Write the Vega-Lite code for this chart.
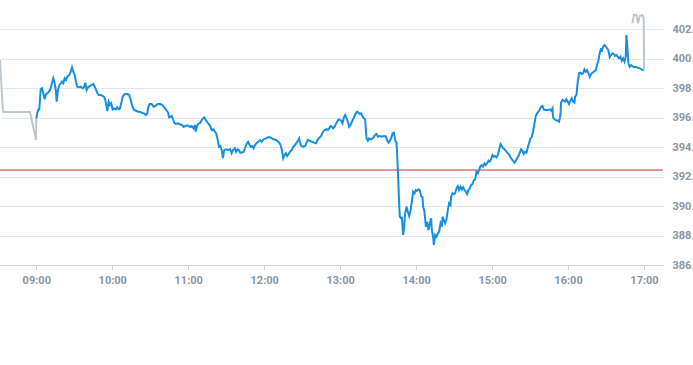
{
  "width": 663,
  "height": 265,
  "autosize": {"type": "none"},
  "padding": {"left": 0, "top": 0, "right": 30, "bottom": 100},
  "config": {"view": {"stroke": "transparent"}},
  "layer": [
    {
      "data": {"values": [{"prevClose": 392.45}]},
      "mark": {"type": "rule", "color": "#c9302c", "strokeWidth": 1},
      "encoding": {"y": {"field": "prevClose", "type": "quantitative"}}
    },
    {
      "data": {"values": [
        {"time":"2024-03-01T08:31:20Z","price":399.92,"series":"pre"},
        {"time":"2024-03-01T08:33:43Z","price":396.39,"series":"pre"},
        {"time":"2024-03-01T08:55:02Z","price":396.39,"series":"pre"},
        {"time":"2024-03-01T08:59:46Z","price":394.49,"series":"pre"},
        {"time":"2024-03-01T09:00:00Z","price":395.96,"series":"pre"},
        {"time":"2024-03-01T09:00:00Z","price":395.96,"series":"regular"},
        {"time":"2024-03-01T09:01:21Z","price":396.53,"series":"regular"},
        {"time":"2024-03-01T09:02:22Z","price":396.57,"series":"regular"},
        {"time":"2024-03-01T09:03:28Z","price":397.93,"series":"regular"},
        {"time":"2024-03-01T09:04:30Z","price":398.00,"series":"regular"},
        {"time":"2024-03-01T09:05:32Z","price":397.66,"series":"regular"},
        {"time":"2024-03-01T09:06:38Z","price":397.25,"series":"regular"},
        {"time":"2024-03-01T09:07:39Z","price":397.61,"series":"regular"},
        {"time":"2024-03-01T09:09:14Z","price":397.70,"series":"regular"},
        {"time":"2024-03-01T09:10:49Z","price":397.89,"series":"regular"},
        {"time":"2024-03-01T09:12:24Z","price":398.34,"series":"regular"},
        {"time":"2024-03-01T09:13:25Z","price":398.68,"series":"regular"},
        {"time":"2024-03-01T09:14:32Z","price":398.34,"series":"regular"},
        {"time":"2024-03-01T09:15:33Z","price":397.77,"series":"regular"},
        {"time":"2024-03-01T09:16:06Z","price":397.09,"series":"regular"},
        {"time":"2024-03-01T09:17:08Z","price":397.89,"series":"regular"},
        {"time":"2024-03-01T09:18:09Z","price":398.23,"series":"regular"},
        {"time":"2024-03-01T09:19:16Z","price":398.34,"series":"regular"},
        {"time":"2024-03-01T09:20:17Z","price":398.45,"series":"regular"},
        {"time":"2024-03-01T09:21:19Z","price":398.34,"series":"regular"},
        {"time":"2024-03-01T09:22:25Z","price":398.68,"series":"regular"},
        {"time":"2024-03-01T09:23:27Z","price":398.57,"series":"regular"},
        {"time":"2024-03-01T09:24:28Z","price":398.79,"series":"regular"},
        {"time":"2024-03-01T09:26:03Z","price":398.91,"series":"regular"},
        {"time":"2024-03-01T09:27:09Z","price":399.13,"series":"regular"},
        {"time":"2024-03-01T09:28:11Z","price":399.43,"series":"regular"},
        {"time":"2024-03-01T09:29:13Z","price":399.13,"series":"regular"},
        {"time":"2024-03-01T09:30:19Z","price":398.91,"series":"regular"},
        {"time":"2024-03-01T09:31:21Z","price":398.45,"series":"regular"},
        {"time":"2024-03-01T09:32:22Z","price":398.11,"series":"regular"},
        {"time":"2024-03-01T09:33:57Z","price":398.07,"series":"regular"},
        {"time":"2024-03-01T09:35:03Z","price":398.11,"series":"regular"},
        {"time":"2024-03-01T09:36:38Z","price":398.00,"series":"regular"},
        {"time":"2024-03-01T09:37:40Z","price":398.07,"series":"regular"},
        {"time":"2024-03-01T09:38:41Z","price":398.38,"series":"regular"},
        {"time":"2024-03-01T09:39:47Z","price":397.89,"series":"regular"},
        {"time":"2024-03-01T09:40:49Z","price":398.07,"series":"regular"},
        {"time":"2024-03-01T09:42:24Z","price":398.16,"series":"regular"},
        {"time":"2024-03-01T09:43:58Z","price":398.23,"series":"regular"},
        {"time":"2024-03-01T09:45:00Z","price":398.29,"series":"regular"},
        {"time":"2024-03-01T09:46:06Z","price":398.11,"series":"regular"},
        {"time":"2024-03-01T09:47:08Z","price":397.93,"series":"regular"},
        {"time":"2024-03-01T09:48:10Z","price":397.70,"series":"regular"},
        {"time":"2024-03-01T09:49:16Z","price":397.55,"series":"regular"},
        {"time":"2024-03-01T09:50:51Z","price":397.55,"series":"regular"},
        {"time":"2024-03-01T09:52:25Z","price":397.48,"series":"regular"},
        {"time":"2024-03-01T09:53:27Z","price":397.43,"series":"regular"},
        {"time":"2024-03-01T09:54:28Z","price":397.21,"series":"regular"},
        {"time":"2024-03-01T09:55:02Z","price":396.98,"series":"regular"},
        {"time":"2024-03-01T09:56:03Z","price":396.46,"series":"regular"},
        {"time":"2024-03-01T09:57:10Z","price":397.09,"series":"regular"},
        {"time":"2024-03-01T09:58:11Z","price":396.87,"series":"regular"},
        {"time":"2024-03-01T09:59:13Z","price":396.98,"series":"regular"},
        {"time":"2024-03-01T10:00:19Z","price":396.57,"series":"regular"},
        {"time":"2024-03-01T10:01:21Z","price":396.64,"series":"regular"},
        {"time":"2024-03-01T10:02:55Z","price":396.57,"series":"regular"},
        {"time":"2024-03-01T10:03:57Z","price":396.71,"series":"regular"},
        {"time":"2024-03-01T10:05:03Z","price":396.57,"series":"regular"},
        {"time":"2024-03-01T10:06:05Z","price":396.64,"series":"regular"},
        {"time":"2024-03-01T10:07:06Z","price":396.98,"series":"regular"},
        {"time":"2024-03-01T10:08:13Z","price":397.43,"series":"regular"},
        {"time":"2024-03-01T10:09:47Z","price":397.61,"series":"regular"},
        {"time":"2024-03-01T10:11:51Z","price":397.61,"series":"regular"},
        {"time":"2024-03-01T10:13:25Z","price":397.55,"series":"regular"},
        {"time":"2024-03-01T10:14:32Z","price":397.21,"series":"regular"},
        {"time":"2024-03-01T10:15:33Z","price":396.87,"series":"regular"},
        {"time":"2024-03-01T10:17:08Z","price":396.53,"series":"regular"},
        {"time":"2024-03-01T10:18:43Z","price":396.48,"series":"regular"},
        {"time":"2024-03-01T10:20:17Z","price":396.41,"series":"regular"},
        {"time":"2024-03-01T10:21:52Z","price":396.41,"series":"regular"},
        {"time":"2024-03-01T10:23:27Z","price":396.34,"series":"regular"},
        {"time":"2024-03-01T10:25:02Z","price":396.30,"series":"regular"},
        {"time":"2024-03-01T10:26:36Z","price":396.19,"series":"regular"},
        {"time":"2024-03-01T10:27:38Z","price":396.30,"series":"regular"},
        {"time":"2024-03-01T10:28:35Z","price":396.73,"series":"regular"},
        {"time":"2024-03-01T10:29:32Z","price":396.93,"series":"regular"},
        {"time":"2024-03-01T10:31:06Z","price":396.93,"series":"regular"},
        {"time":"2024-03-01T10:32:41Z","price":396.75,"series":"regular"},
        {"time":"2024-03-01T10:34:16Z","price":396.80,"series":"regular"},
        {"time":"2024-03-01T10:35:51Z","price":396.93,"series":"regular"},
        {"time":"2024-03-01T10:37:54Z","price":396.93,"series":"regular"},
        {"time":"2024-03-01T10:39:28Z","price":396.87,"series":"regular"},
        {"time":"2024-03-01T10:41:03Z","price":396.71,"series":"regular"},
        {"time":"2024-03-01T10:42:38Z","price":396.53,"series":"regular"},
        {"time":"2024-03-01T10:44:13Z","price":396.34,"series":"regular"},
        {"time":"2024-03-01T10:44:46Z","price":396.03,"series":"regular"},
        {"time":"2024-03-01T10:45:48Z","price":396.07,"series":"regular"},
        {"time":"2024-03-01T10:46:54Z","price":396.12,"series":"regular"},
        {"time":"2024-03-01T10:47:56Z","price":395.90,"series":"regular"},
        {"time":"2024-03-01T10:48:57Z","price":395.66,"series":"regular"},
        {"time":"2024-03-01T10:50:03Z","price":395.58,"series":"regular"},
        {"time":"2024-03-01T10:51:38Z","price":395.62,"series":"regular"},
        {"time":"2024-03-01T10:53:13Z","price":395.56,"series":"regular"},
        {"time":"2024-03-01T10:54:48Z","price":395.51,"series":"regular"},
        {"time":"2024-03-01T10:56:22Z","price":395.39,"series":"regular"},
        {"time":"2024-03-01T10:57:57Z","price":395.44,"series":"regular"},
        {"time":"2024-03-01T10:59:32Z","price":395.49,"series":"regular"},
        {"time":"2024-03-01T11:01:07Z","price":395.39,"series":"regular"},
        {"time":"2024-03-01T11:02:41Z","price":395.44,"series":"regular"},
        {"time":"2024-03-01T11:04:16Z","price":395.28,"series":"regular"},
        {"time":"2024-03-01T11:05:18Z","price":395.51,"series":"regular"},
        {"time":"2024-03-01T11:05:51Z","price":395.05,"series":"regular"},
        {"time":"2024-03-01T11:06:52Z","price":395.44,"series":"regular"},
        {"time":"2024-03-01T11:07:54Z","price":395.58,"series":"regular"},
        {"time":"2024-03-01T11:09:29Z","price":395.66,"series":"regular"},
        {"time":"2024-03-01T11:11:03Z","price":395.90,"series":"regular"},
        {"time":"2024-03-01T11:12:38Z","price":396.03,"series":"regular"},
        {"time":"2024-03-01T11:14:13Z","price":395.80,"series":"regular"},
        {"time":"2024-03-01T11:15:48Z","price":395.62,"series":"regular"},
        {"time":"2024-03-01T11:17:22Z","price":395.44,"series":"regular"},
        {"time":"2024-03-01T11:18:29Z","price":395.17,"series":"regular"},
        {"time":"2024-03-01T11:20:03Z","price":395.22,"series":"regular"},
        {"time":"2024-03-01T11:21:05Z","price":395.05,"series":"regular"},
        {"time":"2024-03-01T11:22:07Z","price":394.94,"series":"regular"},
        {"time":"2024-03-01T11:23:13Z","price":394.54,"series":"regular"},
        {"time":"2024-03-01T11:24:15Z","price":394.03,"series":"regular"},
        {"time":"2024-03-01T11:25:16Z","price":394.08,"series":"regular"},
        {"time":"2024-03-01T11:26:22Z","price":393.81,"series":"regular"},
        {"time":"2024-03-01T11:27:24Z","price":393.27,"series":"regular"},
        {"time":"2024-03-01T11:28:26Z","price":393.81,"series":"regular"},
        {"time":"2024-03-01T11:30:00Z","price":393.86,"series":"regular"},
        {"time":"2024-03-01T11:31:35Z","price":393.81,"series":"regular"},
        {"time":"2024-03-01T11:33:10Z","price":393.86,"series":"regular"},
        {"time":"2024-03-01T11:34:16Z","price":393.59,"series":"regular"},
        {"time":"2024-03-01T11:35:18Z","price":393.81,"series":"regular"},
        {"time":"2024-03-01T11:36:53Z","price":393.93,"series":"regular"},
        {"time":"2024-03-01T11:37:54Z","price":393.69,"series":"regular"},
        {"time":"2024-03-01T11:39:00Z","price":393.86,"series":"regular"},
        {"time":"2024-03-01T11:40:02Z","price":393.81,"series":"regular"},
        {"time":"2024-03-01T11:41:03Z","price":393.63,"series":"regular"},
        {"time":"2024-03-01T11:42:10Z","price":393.63,"series":"regular"},
        {"time":"2024-03-01T11:43:44Z","price":393.69,"series":"regular"},
        {"time":"2024-03-01T11:44:46Z","price":393.93,"series":"regular"},
        {"time":"2024-03-01T11:46:21Z","price":394.27,"series":"regular"},
        {"time":"2024-03-01T11:47:22Z","price":394.37,"series":"regular"},
        {"time":"2024-03-01T11:48:29Z","price":394.15,"series":"regular"},
        {"time":"2024-03-01T11:49:30Z","price":394.03,"series":"regular"},
        {"time":"2024-03-01T11:50:32Z","price":394.08,"series":"regular"},
        {"time":"2024-03-01T11:51:38Z","price":393.93,"series":"regular"},
        {"time":"2024-03-01T11:52:40Z","price":394.15,"series":"regular"},
        {"time":"2024-03-01T11:54:15Z","price":394.31,"series":"regular"},
        {"time":"2024-03-01T11:55:16Z","price":394.37,"series":"regular"},
        {"time":"2024-03-01T11:56:51Z","price":394.49,"series":"regular"},
        {"time":"2024-03-01T11:57:57Z","price":394.37,"series":"regular"},
        {"time":"2024-03-01T11:59:32Z","price":394.54,"series":"regular"},
        {"time":"2024-03-01T12:01:21Z","price":394.60,"series":"regular"},
        {"time":"2024-03-01T12:02:56Z","price":394.67,"series":"regular"},
        {"time":"2024-03-01T12:04:30Z","price":394.67,"series":"regular"},
        {"time":"2024-03-01T12:06:05Z","price":394.60,"series":"regular"},
        {"time":"2024-03-01T12:07:40Z","price":394.54,"series":"regular"},
        {"time":"2024-03-01T12:09:14Z","price":394.49,"series":"regular"},
        {"time":"2024-03-01T12:10:16Z","price":394.44,"series":"regular"},
        {"time":"2024-03-01T12:11:51Z","price":394.31,"series":"regular"},
        {"time":"2024-03-01T12:12:57Z","price":394.15,"series":"regular"},
        {"time":"2024-03-01T12:13:59Z","price":393.81,"series":"regular"},
        {"time":"2024-03-01T12:15:00Z","price":393.25,"series":"regular"},
        {"time":"2024-03-01T12:16:07Z","price":393.47,"series":"regular"},
        {"time":"2024-03-01T12:17:08Z","price":393.59,"series":"regular"},
        {"time":"2024-03-01T12:18:10Z","price":393.40,"series":"regular"},
        {"time":"2024-03-01T12:19:16Z","price":393.54,"series":"regular"},
        {"time":"2024-03-01T12:20:18Z","price":393.69,"series":"regular"},
        {"time":"2024-03-01T12:21:52Z","price":393.81,"series":"regular"},
        {"time":"2024-03-01T12:22:54Z","price":394.03,"series":"regular"},
        {"time":"2024-03-01T12:24:29Z","price":394.15,"series":"regular"},
        {"time":"2024-03-01T12:25:35Z","price":394.31,"series":"regular"},
        {"time":"2024-03-01T12:26:37Z","price":394.44,"series":"regular"},
        {"time":"2024-03-01T12:27:38Z","price":394.60,"series":"regular"},
        {"time":"2024-03-01T12:28:11Z","price":394.37,"series":"regular"},
        {"time":"2024-03-01T12:29:13Z","price":394.08,"series":"regular"},
        {"time":"2024-03-01T12:30:48Z","price":394.03,"series":"regular"},
        {"time":"2024-03-01T12:32:22Z","price":394.08,"series":"regular"},
        {"time":"2024-03-01T12:33:29Z","price":394.31,"series":"regular"},
        {"time":"2024-03-01T12:34:30Z","price":394.49,"series":"regular"},
        {"time":"2024-03-01T12:36:05Z","price":394.44,"series":"regular"},
        {"time":"2024-03-01T12:37:40Z","price":394.37,"series":"regular"},
        {"time":"2024-03-01T12:39:15Z","price":394.31,"series":"regular"},
        {"time":"2024-03-01T12:40:49Z","price":394.27,"series":"regular"},
        {"time":"2024-03-01T12:41:51Z","price":394.44,"series":"regular"},
        {"time":"2024-03-01T12:42:57Z","price":394.60,"series":"regular"},
        {"time":"2024-03-01T12:43:59Z","price":394.67,"series":"regular"},
        {"time":"2024-03-01T12:45:00Z","price":394.76,"series":"regular"},
        {"time":"2024-03-01T12:46:07Z","price":394.99,"series":"regular"},
        {"time":"2024-03-01T12:47:08Z","price":395.12,"series":"regular"},
        {"time":"2024-03-01T12:48:10Z","price":395.17,"series":"regular"},
        {"time":"2024-03-01T12:49:16Z","price":395.22,"series":"regular"},
        {"time":"2024-03-01T12:50:18Z","price":395.17,"series":"regular"},
        {"time":"2024-03-01T12:51:19Z","price":395.28,"series":"regular"},
        {"time":"2024-03-01T12:52:26Z","price":395.44,"series":"regular"},
        {"time":"2024-03-01T12:53:27Z","price":395.39,"series":"regular"},
        {"time":"2024-03-01T12:54:29Z","price":395.28,"series":"regular"},
        {"time":"2024-03-01T12:55:35Z","price":395.39,"series":"regular"},
        {"time":"2024-03-01T12:56:37Z","price":395.58,"series":"regular"},
        {"time":"2024-03-01T12:57:38Z","price":395.73,"series":"regular"},
        {"time":"2024-03-01T12:58:45Z","price":395.90,"series":"regular"},
        {"time":"2024-03-01T12:59:46Z","price":395.85,"series":"regular"},
        {"time":"2024-03-01T13:00:48Z","price":395.80,"series":"regular"},
        {"time":"2024-03-01T13:01:54Z","price":395.62,"series":"regular"},
        {"time":"2024-03-01T13:02:56Z","price":396.03,"series":"regular"},
        {"time":"2024-03-01T13:03:57Z","price":396.19,"series":"regular"},
        {"time":"2024-03-01T13:05:04Z","price":395.96,"series":"regular"},
        {"time":"2024-03-01T13:06:05Z","price":395.73,"series":"regular"},
        {"time":"2024-03-01T13:07:07Z","price":395.39,"series":"regular"},
        {"time":"2024-03-01T13:08:13Z","price":395.51,"series":"regular"},
        {"time":"2024-03-01T13:09:15Z","price":395.73,"series":"regular"},
        {"time":"2024-03-01T13:10:16Z","price":395.90,"series":"regular"},
        {"time":"2024-03-01T13:11:22Z","price":396.12,"series":"regular"},
        {"time":"2024-03-01T13:12:24Z","price":396.30,"series":"regular"},
        {"time":"2024-03-01T13:13:26Z","price":396.41,"series":"regular"},
        {"time":"2024-03-01T13:14:32Z","price":396.34,"series":"regular"},
        {"time":"2024-03-01T13:15:34Z","price":396.26,"series":"regular"},
        {"time":"2024-03-01T13:16:35Z","price":396.30,"series":"regular"},
        {"time":"2024-03-01T13:17:42Z","price":396.07,"series":"regular"},
        {"time":"2024-03-01T13:18:43Z","price":395.96,"series":"regular"},
        {"time":"2024-03-01T13:19:45Z","price":395.90,"series":"regular"},
        {"time":"2024-03-01T13:20:18Z","price":395.17,"series":"regular"},
        {"time":"2024-03-01T13:20:51Z","price":394.60,"series":"regular"},
        {"time":"2024-03-01T13:21:53Z","price":394.44,"series":"regular"},
        {"time":"2024-03-01T13:22:54Z","price":394.60,"series":"regular"},
        {"time":"2024-03-01T13:24:01Z","price":394.54,"series":"regular"},
        {"time":"2024-03-01T13:25:35Z","price":394.60,"series":"regular"},
        {"time":"2024-03-01T13:26:37Z","price":394.71,"series":"regular"},
        {"time":"2024-03-01T13:27:38Z","price":394.83,"series":"regular"},
        {"time":"2024-03-01T13:28:45Z","price":394.90,"series":"regular"},
        {"time":"2024-03-01T13:29:46Z","price":394.71,"series":"regular"},
        {"time":"2024-03-01T13:31:21Z","price":394.76,"series":"regular"},
        {"time":"2024-03-01T13:32:56Z","price":394.71,"series":"regular"},
        {"time":"2024-03-01T13:34:31Z","price":394.76,"series":"regular"},
        {"time":"2024-03-01T13:36:05Z","price":394.74,"series":"regular"},
        {"time":"2024-03-01T13:37:07Z","price":394.49,"series":"regular"},
        {"time":"2024-03-01T13:38:13Z","price":394.31,"series":"regular"},
        {"time":"2024-03-01T13:39:15Z","price":394.44,"series":"regular"},
        {"time":"2024-03-01T13:40:16Z","price":394.60,"series":"regular"},
        {"time":"2024-03-01T13:41:23Z","price":394.94,"series":"regular"},
        {"time":"2024-03-01T13:42:24Z","price":394.99,"series":"regular"},
        {"time":"2024-03-01T13:43:26Z","price":394.49,"series":"regular"},
        {"time":"2024-03-01T13:44:32Z","price":394.27,"series":"regular"},
        {"time":"2024-03-01T13:45:00Z","price":393.59,"series":"regular"},
        {"time":"2024-03-01T13:45:34Z","price":392.45,"series":"regular"},
        {"time":"2024-03-01T13:46:07Z","price":391.32,"series":"regular"},
        {"time":"2024-03-01T13:46:35Z","price":390.19,"series":"regular"},
        {"time":"2024-03-01T13:47:08Z","price":389.28,"series":"regular"},
        {"time":"2024-03-01T13:48:10Z","price":389.17,"series":"regular"},
        {"time":"2024-03-01T13:48:43Z","price":389.28,"series":"regular"},
        {"time":"2024-03-01T13:49:16Z","price":388.60,"series":"regular"},
        {"time":"2024-03-01T13:49:45Z","price":388.04,"series":"regular"},
        {"time":"2024-03-01T13:50:18Z","price":388.38,"series":"regular"},
        {"time":"2024-03-01T13:50:51Z","price":388.94,"series":"regular"},
        {"time":"2024-03-01T13:51:19Z","price":389.51,"series":"regular"},
        {"time":"2024-03-01T13:52:26Z","price":389.96,"series":"regular"},
        {"time":"2024-03-01T13:53:27Z","price":389.62,"series":"regular"},
        {"time":"2024-03-01T13:54:29Z","price":389.33,"series":"regular"},
        {"time":"2024-03-01T13:55:35Z","price":389.69,"series":"regular"},
        {"time":"2024-03-01T13:56:37Z","price":390.30,"series":"regular"},
        {"time":"2024-03-01T13:57:38Z","price":390.98,"series":"regular"},
        {"time":"2024-03-01T13:58:45Z","price":390.87,"series":"regular"},
        {"time":"2024-03-01T13:59:46Z","price":391.09,"series":"regular"},
        {"time":"2024-03-01T14:00:48Z","price":391.04,"series":"regular"},
        {"time":"2024-03-01T14:01:54Z","price":391.14,"series":"regular"},
        {"time":"2024-03-01T14:02:56Z","price":391.09,"series":"regular"},
        {"time":"2024-03-01T14:03:57Z","price":390.68,"series":"regular"},
        {"time":"2024-03-01T14:05:04Z","price":390.60,"series":"regular"},
        {"time":"2024-03-01T14:05:32Z","price":389.96,"series":"regular"},
        {"time":"2024-03-01T14:06:38Z","price":389.62,"series":"regular"},
        {"time":"2024-03-01T14:07:40Z","price":388.60,"series":"regular"},
        {"time":"2024-03-01T14:08:41Z","price":388.94,"series":"regular"},
        {"time":"2024-03-01T14:09:48Z","price":388.38,"series":"regular"},
        {"time":"2024-03-01T14:10:49Z","price":388.83,"series":"regular"},
        {"time":"2024-03-01T14:11:51Z","price":389.17,"series":"regular"},
        {"time":"2024-03-01T14:12:24Z","price":388.38,"series":"regular"},
        {"time":"2024-03-01T14:13:26Z","price":387.92,"series":"regular"},
        {"time":"2024-03-01T14:13:59Z","price":387.36,"series":"regular"},
        {"time":"2024-03-01T14:15:00Z","price":388.04,"series":"regular"},
        {"time":"2024-03-01T14:16:07Z","price":387.92,"series":"regular"},
        {"time":"2024-03-01T14:17:08Z","price":388.15,"series":"regular"},
        {"time":"2024-03-01T14:18:10Z","price":388.26,"series":"regular"},
        {"time":"2024-03-01T14:19:16Z","price":388.83,"series":"regular"},
        {"time":"2024-03-01T14:20:18Z","price":388.60,"series":"regular"},
        {"time":"2024-03-01T14:20:51Z","price":389.28,"series":"regular"},
        {"time":"2024-03-01T14:21:52Z","price":389.05,"series":"regular"},
        {"time":"2024-03-01T14:22:54Z","price":388.83,"series":"regular"},
        {"time":"2024-03-01T14:24:00Z","price":389.10,"series":"regular"},
        {"time":"2024-03-01T14:25:02Z","price":389.73,"series":"regular"},
        {"time":"2024-03-01T14:26:04Z","price":390.19,"series":"regular"},
        {"time":"2024-03-01T14:27:10Z","price":390.07,"series":"regular"},
        {"time":"2024-03-01T14:27:38Z","price":390.64,"series":"regular"},
        {"time":"2024-03-01T14:28:45Z","price":390.87,"series":"regular"},
        {"time":"2024-03-01T14:29:46Z","price":390.82,"series":"regular"},
        {"time":"2024-03-01T14:30:48Z","price":390.87,"series":"regular"},
        {"time":"2024-03-01T14:31:54Z","price":391.21,"series":"regular"},
        {"time":"2024-03-01T14:32:56Z","price":391.36,"series":"regular"},
        {"time":"2024-03-01T14:33:57Z","price":391.09,"series":"regular"},
        {"time":"2024-03-01T14:35:04Z","price":391.32,"series":"regular"},
        {"time":"2024-03-01T14:36:05Z","price":391.14,"series":"regular"},
        {"time":"2024-03-01T14:37:07Z","price":391.28,"series":"regular"},
        {"time":"2024-03-01T14:38:13Z","price":391.09,"series":"regular"},
        {"time":"2024-03-01T14:39:15Z","price":390.98,"series":"regular"},
        {"time":"2024-03-01T14:40:16Z","price":390.82,"series":"regular"},
        {"time":"2024-03-01T14:41:23Z","price":391.09,"series":"regular"},
        {"time":"2024-03-01T14:42:24Z","price":391.21,"series":"regular"},
        {"time":"2024-03-01T14:43:26Z","price":391.43,"series":"regular"},
        {"time":"2024-03-01T14:44:32Z","price":391.50,"series":"regular"},
        {"time":"2024-03-01T14:45:34Z","price":391.77,"series":"regular"},
        {"time":"2024-03-01T14:46:35Z","price":391.82,"series":"regular"},
        {"time":"2024-03-01T14:47:42Z","price":392.34,"series":"regular"},
        {"time":"2024-03-01T14:48:43Z","price":392.23,"series":"regular"},
        {"time":"2024-03-01T14:49:45Z","price":392.45,"series":"regular"},
        {"time":"2024-03-01T14:50:51Z","price":392.72,"series":"regular"},
        {"time":"2024-03-01T14:51:53Z","price":392.79,"series":"regular"},
        {"time":"2024-03-01T14:52:54Z","price":392.68,"series":"regular"},
        {"time":"2024-03-01T14:54:01Z","price":392.91,"series":"regular"},
        {"time":"2024-03-01T14:55:02Z","price":392.79,"series":"regular"},
        {"time":"2024-03-01T14:56:04Z","price":392.91,"series":"regular"},
        {"time":"2024-03-01T14:57:10Z","price":393.08,"series":"regular"},
        {"time":"2024-03-01T14:58:12Z","price":393.02,"series":"regular"},
        {"time":"2024-03-01T14:59:13Z","price":393.18,"series":"regular"},
        {"time":"2024-03-01T15:00:20Z","price":393.47,"series":"regular"},
        {"time":"2024-03-01T15:01:21Z","price":393.35,"series":"regular"},
        {"time":"2024-03-01T15:02:23Z","price":393.40,"series":"regular"},
        {"time":"2024-03-01T15:03:29Z","price":393.31,"series":"regular"},
        {"time":"2024-03-01T15:04:31Z","price":393.47,"series":"regular"},
        {"time":"2024-03-01T15:05:32Z","price":393.81,"series":"regular"},
        {"time":"2024-03-01T15:06:39Z","price":394.22,"series":"regular"},
        {"time":"2024-03-01T15:07:40Z","price":394.08,"series":"regular"},
        {"time":"2024-03-01T15:08:42Z","price":393.93,"series":"regular"},
        {"time":"2024-03-01T15:09:48Z","price":393.86,"series":"regular"},
        {"time":"2024-03-01T15:10:50Z","price":393.76,"series":"regular"},
        {"time":"2024-03-01T15:11:51Z","price":393.63,"series":"regular"},
        {"time":"2024-03-01T15:12:58Z","price":393.54,"series":"regular"},
        {"time":"2024-03-01T15:13:59Z","price":393.40,"series":"regular"},
        {"time":"2024-03-01T15:15:01Z","price":393.25,"series":"regular"},
        {"time":"2024-03-01T15:16:35Z","price":393.08,"series":"regular"},
        {"time":"2024-03-01T15:17:42Z","price":392.95,"series":"regular"},
        {"time":"2024-03-01T15:18:43Z","price":393.08,"series":"regular"},
        {"time":"2024-03-01T15:19:45Z","price":393.25,"series":"regular"},
        {"time":"2024-03-01T15:20:51Z","price":393.40,"series":"regular"},
        {"time":"2024-03-01T15:21:53Z","price":393.63,"series":"regular"},
        {"time":"2024-03-01T15:22:54Z","price":393.86,"series":"regular"},
        {"time":"2024-03-01T15:24:01Z","price":393.76,"series":"regular"},
        {"time":"2024-03-01T15:25:02Z","price":393.54,"series":"regular"},
        {"time":"2024-03-01T15:26:04Z","price":393.69,"series":"regular"},
        {"time":"2024-03-01T15:27:10Z","price":393.63,"series":"regular"},
        {"time":"2024-03-01T15:28:12Z","price":393.99,"series":"regular"},
        {"time":"2024-03-01T15:29:13Z","price":394.27,"series":"regular"},
        {"time":"2024-03-01T15:30:20Z","price":394.60,"series":"regular"},
        {"time":"2024-03-01T15:31:21Z","price":394.71,"series":"regular"},
        {"time":"2024-03-01T15:32:23Z","price":395.05,"series":"regular"},
        {"time":"2024-03-01T15:33:29Z","price":395.62,"series":"regular"},
        {"time":"2024-03-01T15:34:31Z","price":396.12,"series":"regular"},
        {"time":"2024-03-01T15:35:32Z","price":396.30,"series":"regular"},
        {"time":"2024-03-01T15:36:39Z","price":396.41,"series":"regular"},
        {"time":"2024-03-01T15:37:40Z","price":396.57,"series":"regular"},
        {"time":"2024-03-01T15:38:42Z","price":396.75,"series":"regular"},
        {"time":"2024-03-01T15:39:48Z","price":396.80,"series":"regular"},
        {"time":"2024-03-01T15:40:50Z","price":396.57,"series":"regular"},
        {"time":"2024-03-01T15:42:24Z","price":396.53,"series":"regular"},
        {"time":"2024-03-01T15:43:59Z","price":396.53,"series":"regular"},
        {"time":"2024-03-01T15:45:34Z","price":396.57,"series":"regular"},
        {"time":"2024-03-01T15:46:35Z","price":396.48,"series":"regular"},
        {"time":"2024-03-01T15:47:42Z","price":396.64,"series":"regular"},
        {"time":"2024-03-01T15:48:10Z","price":396.03,"series":"regular"},
        {"time":"2024-03-01T15:49:17Z","price":395.90,"series":"regular"},
        {"time":"2024-03-01T15:50:18Z","price":395.85,"series":"regular"},
        {"time":"2024-03-01T15:51:53Z","price":395.80,"series":"regular"},
        {"time":"2024-03-01T15:52:54Z","price":395.73,"series":"regular"},
        {"time":"2024-03-01T15:54:01Z","price":396.19,"series":"regular"},
        {"time":"2024-03-01T15:54:29Z","price":397.02,"series":"regular"},
        {"time":"2024-03-01T15:55:36Z","price":397.21,"series":"regular"},
        {"time":"2024-03-01T15:56:37Z","price":397.16,"series":"regular"},
        {"time":"2024-03-01T15:57:39Z","price":397.09,"series":"regular"},
        {"time":"2024-03-01T15:58:45Z","price":397.25,"series":"regular"},
        {"time":"2024-03-01T15:59:47Z","price":397.09,"series":"regular"},
        {"time":"2024-03-01T16:00:48Z","price":396.93,"series":"regular"},
        {"time":"2024-03-01T16:01:55Z","price":397.16,"series":"regular"},
        {"time":"2024-03-01T16:02:56Z","price":397.32,"series":"regular"},
        {"time":"2024-03-01T16:03:58Z","price":397.09,"series":"regular"},
        {"time":"2024-03-01T16:05:04Z","price":397.02,"series":"regular"},
        {"time":"2024-03-01T16:05:33Z","price":397.43,"series":"regular"},
        {"time":"2024-03-01T16:06:39Z","price":397.55,"series":"regular"},
        {"time":"2024-03-01T16:07:41Z","price":398.45,"series":"regular"},
        {"time":"2024-03-01T16:08:42Z","price":399.02,"series":"regular"},
        {"time":"2024-03-01T16:09:49Z","price":399.06,"series":"regular"},
        {"time":"2024-03-01T16:10:50Z","price":398.97,"series":"regular"},
        {"time":"2024-03-01T16:11:52Z","price":399.02,"series":"regular"},
        {"time":"2024-03-01T16:12:58Z","price":399.29,"series":"regular"},
        {"time":"2024-03-01T16:14:00Z","price":399.13,"series":"regular"},
        {"time":"2024-03-01T16:15:01Z","price":399.24,"series":"regular"},
        {"time":"2024-03-01T16:16:08Z","price":399.02,"series":"regular"},
        {"time":"2024-03-01T16:17:09Z","price":398.79,"series":"regular"},
        {"time":"2024-03-01T16:18:11Z","price":398.97,"series":"regular"},
        {"time":"2024-03-01T16:19:17Z","price":399.06,"series":"regular"},
        {"time":"2024-03-01T16:20:19Z","price":399.13,"series":"regular"},
        {"time":"2024-03-01T16:21:53Z","price":399.24,"series":"regular"},
        {"time":"2024-03-01T16:22:55Z","price":399.58,"series":"regular"},
        {"time":"2024-03-01T16:24:01Z","price":399.92,"series":"regular"},
        {"time":"2024-03-01T16:25:03Z","price":400.42,"series":"regular"},
        {"time":"2024-03-01T16:26:04Z","price":400.72,"series":"regular"},
        {"time":"2024-03-01T16:26:37Z","price":400.49,"series":"regular"},
        {"time":"2024-03-01T16:27:39Z","price":400.83,"series":"regular"},
        {"time":"2024-03-01T16:28:45Z","price":400.94,"series":"regular"},
        {"time":"2024-03-01T16:29:47Z","price":400.83,"series":"regular"},
        {"time":"2024-03-01T16:30:48Z","price":400.72,"series":"regular"},
        {"time":"2024-03-01T16:31:55Z","price":400.56,"series":"regular"},
        {"time":"2024-03-01T16:32:56Z","price":400.11,"series":"regular"},
        {"time":"2024-03-01T16:33:58Z","price":400.26,"series":"regular"},
        {"time":"2024-03-01T16:35:04Z","price":400.38,"series":"regular"},
        {"time":"2024-03-01T16:36:06Z","price":400.33,"series":"regular"},
        {"time":"2024-03-01T16:37:07Z","price":400.20,"series":"regular"},
        {"time":"2024-03-01T16:38:14Z","price":400.26,"series":"regular"},
        {"time":"2024-03-01T16:39:15Z","price":400.15,"series":"regular"},
        {"time":"2024-03-01T16:40:17Z","price":400.04,"series":"regular"},
        {"time":"2024-03-01T16:41:23Z","price":400.15,"series":"regular"},
        {"time":"2024-03-01T16:42:25Z","price":399.88,"series":"regular"},
        {"time":"2024-03-01T16:43:26Z","price":400.04,"series":"regular"},
        {"time":"2024-03-01T16:44:33Z","price":399.81,"series":"regular"},
        {"time":"2024-03-01T16:45:34Z","price":400.15,"series":"regular"},
        {"time":"2024-03-01T16:46:07Z","price":401.62,"series":"regular"},
        {"time":"2024-03-01T16:46:36Z","price":401.06,"series":"regular"},
        {"time":"2024-03-01T16:47:42Z","price":399.70,"series":"regular"},
        {"time":"2024-03-01T16:48:44Z","price":399.47,"series":"regular"},
        {"time":"2024-03-01T16:49:45Z","price":399.58,"series":"regular"},
        {"time":"2024-03-01T16:51:20Z","price":399.47,"series":"regular"},
        {"time":"2024-03-01T16:54:01Z","price":399.43,"series":"regular"},
        {"time":"2024-03-01T16:56:37Z","price":399.36,"series":"regular"},
        {"time":"2024-03-01T16:59:13Z","price":399.24,"series":"regular"},
        {"time":"2024-03-01T17:00:00Z","price":399.22,"series":"regular"},
        {"time":"2024-03-01T16:50:51Z","price":402.42,"series":"post"},
        {"time":"2024-03-01T16:51:53Z","price":402.98,"series":"post"},
        {"time":"2024-03-01T16:54:01Z","price":402.98,"series":"post"},
        {"time":"2024-03-01T16:55:16Z","price":402.42,"series":"post"},
        {"time":"2024-03-01T16:56:37Z","price":402.91,"series":"post"},
        {"time":"2024-03-01T16:58:45Z","price":402.98,"series":"post"},
        {"time":"2024-03-01T16:59:47Z","price":402.76,"series":"post"},
        {"time":"2024-03-01T17:00:05Z","price":399.24,"series":"post"}
      ]},
      "mark": {"type": "line", "strokeWidth": 2},
      "encoding": {
        "x": {
          "field": "time",
          "type": "temporal",
          "title": null,
          "scale": {"type": "utc", "domain": [1709281880000, 1709313300000], "nice": false},
          "axis": {
            "format": "%H:%M",
            "values": [1709283600000, 1709287200000, 1709290800000, 1709294400000, 1709298000000, 1709301600000, 1709305200000, 1709308800000, 1709312400000],
            "tickCount": 30,
            "grid": false,
            "labelOverlap": false,
            "domainColor": "#cfd6de",
            "tickColor": "#cfd6de",
            "tickSize": 5,
            "labelColor": "#8a96a3",
            "labelFont": "Roboto",
            "labelFontSize": 11,
            "labelFontWeight": "bold",
            "labelPadding": 4
          }
        },
        "y": {
          "field": "price",
          "type": "quantitative",
          "title": null,
          "scale": {"domain": [386, 404], "nice": false, "zero": false},
          "axis": {
            "orient": "right",
            "values": [386, 388, 390, 392, 394, 396, 398, 400, 402],
            "tickCount": 30,
            "grid": true,
            "labelOverlap": false,
            "gridColor": "#e4e7eb",
            "domain": false,
            "ticks": false,
            "labelColor": "#8a96a3",
            "labelFont": "Roboto",
            "labelFontSize": 11,
            "labelFontWeight": "bold",
            "labelPadding": 9
          }
        },
        "color": {
          "field": "series",
          "type": "nominal",
          "legend": null,
          "scale": {"domain": ["pre", "regular", "post"], "range": ["#bdc7d0", "#168fe0", "#bdc7d0"]}
        }
      }
    }
  ]
}
